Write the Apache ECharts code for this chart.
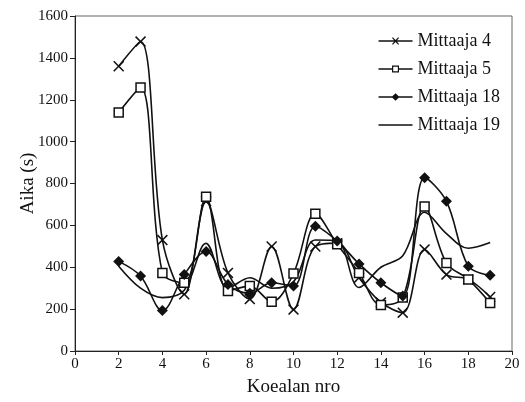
<!DOCTYPE html>
<html><head><meta charset="utf-8">
<script src="https://cdn.jsdelivr.net/npm/echarts@6/dist/echarts.min.js"></script>
<style>html,body{margin:0;padding:0;background:#fff}#c{width:525px;height:402px}</style>
</head><body><div id="c"></div>
<script>
const koealat = [2,3,4,5,6,7,8,9,10,11,12,13,14,15,16,17,18,19];
const mittaaja4 = [1360,1478,530,271,715,373,248,499,198,499,515,350,232,183,485,365,342,258];
const mittaaja5 = [1139,1258,373,326,737,287,310,235,370,656,510,373,220,255,690,420,342,229];
const mittaaja18 = [428,358,193,365,475,318,276,326,310,596,525,416,326,263,828,715,405,362];
const mittaaja19 = [405,300,255,290,514,300,350,300,330,530,525,303,400,455,663,561,491,518];
const seriesNames = ['Mittaaja 4','Mittaaja 5','Mittaaja 18','Mittaaja 19'];
const yTicks = {min:0,max:1600,interval:200};
const xTicks = {min:0,max:20,interval:2};

const pair = arr => koealat.map((x,i)=>[x,arr[i]]);
const font = 'Liberation Serif, Times New Roman, serif';
const crossPath = 'path://M0,1 L1,0 L5,4 L9,0 L10,1 L6,5 L10,9 L9,10 L5,6 L1,10 L0,9 L4,5 Z';
// legend icons (34 x 10 box, corners pinned by tiny dots)
const pins = 'M0,0 h0.01 v0.01 h-0.01 Z M34,9.99 h-0.01 v0.01 h0.01 Z ';
const lineFull = 'M0,4.3 H34 V5.7 H0 Z ';
const iconCross = 'path://' + pins + lineFull + 'M13.5,2 L14.3,1.3 L17,4.1 L19.7,1.3 L20.5,2 L17.8,5 L20.5,8 L19.7,8.7 L17,5.9 L14.3,8.7 L13.5,8 L16.2,5 Z';
const iconRect = 'path://' + pins + 'M0,4.3 H13.5 V5.7 H0 Z M20.5,4.3 H34 V5.7 H20.5 Z M13.5,1.5 H20.5 V8.5 H13.5 Z M14.7,2.7 V7.3 H19.3 V2.7 Z';
const iconDiamond = 'path://' + pins + lineFull + 'M13,5 L17,1.3 L21,5 L17,8.7 Z';
const iconLine = 'path://' + pins + lineFull;
const lineStyle = {color:'#111', width:1.6};
const chart = echarts.init(document.getElementById('c'));
chart.setOption({
  animation:false,
  backgroundColor:'#fff',
  grid:{left:75,right:13,top:16,bottom:46,show:true,borderColor:'#666',borderWidth:1},
  legend:{
    orient:'vertical', right:20, top:27, itemWidth:34, itemHeight:10, itemGap:10,
    textStyle:{fontFamily:font,fontSize:18,color:'#111'},
    itemStyle:{color:'#111',borderWidth:0},
    data:[
      {name:seriesNames[0],icon:iconCross},
      {name:seriesNames[1],icon:iconRect},
      {name:seriesNames[2],icon:iconDiamond},
      {name:seriesNames[3],icon:iconLine}
    ]
  },
  xAxis:{type:'value',min:xTicks.min,max:xTicks.max,interval:xTicks.interval,
    name:'Koealan nro',nameLocation:'middle',nameGap:27,
    nameTextStyle:{fontFamily:font,fontSize:19,color:'#111'},
    axisLine:{lineStyle:{color:'#222',width:1}},
    axisTick:{show:true,length:4,lineStyle:{color:'#222'}},
    axisLabel:{fontFamily:font,fontSize:15,color:'#111',margin:6},
    splitLine:{show:false}},
  yAxis:{type:'value',min:yTicks.min,max:yTicks.max,interval:yTicks.interval,
    name:'Aika (s)',nameLocation:'middle',nameGap:37,nameMoveOverlap:false,
    nameTextStyle:{fontFamily:font,fontSize:19,color:'#111'},
    axisLine:{show:true,lineStyle:{color:'#222',width:1}},
    axisTick:{show:true,length:5,lineStyle:{color:'#222'}},
    axisLabel:{fontFamily:font,fontSize:15,color:'#111',margin:7,formatter:v=>String(v)},
    splitLine:{show:false}},
  series:[
    {name:seriesNames[0],type:'line',smooth:0.35,data:pair(mittaaja4),
      symbol:crossPath,symbolSize:11,itemStyle:{color:'#111'},lineStyle:lineStyle},
    {name:seriesNames[1],type:'line',smooth:0.35,data:pair(mittaaja5),
      symbol:'rect',symbolSize:9,itemStyle:{color:'#fff',borderColor:'#111',borderWidth:1.5},lineStyle:lineStyle},
    {name:seriesNames[2],type:'line',smooth:0.35,data:pair(mittaaja18),
      symbol:'diamond',symbolSize:11,itemStyle:{color:'#111'},lineStyle:lineStyle},
    {name:seriesNames[3],type:'line',smooth:0.35,data:pair(mittaaja19),
      symbol:'none',itemStyle:{color:'#111'},lineStyle:lineStyle}
  ]
});
</script></body></html>
